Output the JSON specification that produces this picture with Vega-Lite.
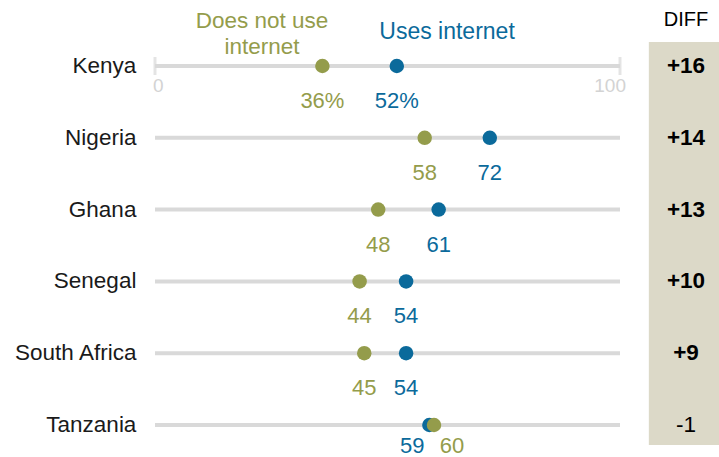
{
  "$schema": "https://vega.github.io/schema/vega-lite/v6.json",
  "width": 719,
  "height": 457,
  "padding": 0,
  "autosize": {"type": "none"},
  "background": "white",
  "config": {"view": {"stroke": null}, "font": "Liberation Sans"},
  "datasets": {
    "dots": [
      {"country": "Kenya", "group": "Uses internet", "value": 52, "label": "52%"},
      {"country": "Nigeria", "group": "Uses internet", "value": 72, "label": "72"},
      {"country": "Ghana", "group": "Uses internet", "value": 61, "label": "61"},
      {"country": "Senegal", "group": "Uses internet", "value": 54, "label": "54"},
      {"country": "South Africa", "group": "Uses internet", "value": 54, "label": "54"},
      {"country": "Tanzania", "group": "Uses internet", "value": 59, "label": "59"},
      {"country": "Kenya", "group": "Does not use internet", "value": 36, "label": "36%"},
      {"country": "Nigeria", "group": "Does not use internet", "value": 58, "label": "58"},
      {"country": "Ghana", "group": "Does not use internet", "value": 48, "label": "48"},
      {"country": "Senegal", "group": "Does not use internet", "value": 44, "label": "44"},
      {"country": "South Africa", "group": "Does not use internet", "value": 45, "label": "45"},
      {"country": "Tanzania", "group": "Does not use internet", "value": 60, "label": "60"}
    ],
    "diffs": [
      {"country": "Kenya", "diff": "+16", "positive": true},
      {"country": "Nigeria", "diff": "+14", "positive": true},
      {"country": "Ghana", "diff": "+13", "positive": true},
      {"country": "Senegal", "diff": "+10", "positive": true},
      {"country": "South Africa", "diff": "+9", "positive": true},
      {"country": "Tanzania", "diff": "-1", "positive": false}
    ],
    "ends": [{"v": 0, "t": "0"}, {"v": 100, "t": "100"}]
  },
  "layer": [
    {
      "data": {"name": "diffs"},
      "mark": {"type": "rule", "strokeWidth": 4, "color": "#d9d9d9"},
      "encoding": {
        "x": {"datum": 0, "type": "quantitative", "scale": {"domain": [0, 100], "range": [155, 620], "nice": false, "zero": false}, "axis": null},
        "x2": {"datum": 100},
        "y": {"field": "country", "type": "nominal", "scale": {"type": "point", "domain": ["Kenya", "Nigeria", "Ghana", "Senegal", "South Africa", "Tanzania"], "range": [66, 425], "padding": 0}, "axis": null}
      }
    },
    {
      "data": {"name": "ends"},
      "mark": {"type": "tick", "orient": "vertical", "size": 18, "thickness": 3, "color": "#d9d9d9"},
      "encoding": {
        "x": {"field": "v", "type": "quantitative"},
        "y": {"datum": "Kenya", "type": "nominal"}
      }
    },
    {
      "data": {"name": "ends"},
      "mark": {"type": "text", "dy": 20, "fontSize": 19, "color": "#d3d3d3", "baseline": "middle", "align": {"expr": "datum.v == 0 ? 'left' : 'right'"}, "dx": {"expr": "datum.v == 0 ? -2 : 6"}},
      "encoding": {
        "x": {"field": "v", "type": "quantitative"},
        "y": {"datum": "Kenya", "type": "nominal"},
        "text": {"field": "t"}
      }
    },
    {
      "data": {"name": "dots"},
      "mark": {"type": "point", "filled": true, "opacity": 1, "size": 210, "shape": "circle"},
      "encoding": {
        "x": {"field": "value", "type": "quantitative"},
        "y": {"field": "country", "type": "nominal"},
        "color": {"field": "group", "type": "nominal", "scale": {"domain": ["Uses internet", "Does not use internet"], "range": ["#0b6a9b", "#949c4b"]}, "legend": null}
      }
    },
    {
      "data": {"name": "dots"},
      "mark": {"type": "text", "fontSize": 22, "baseline": "middle", "dy": {"expr": "datum.country == 'Tanzania' ? 21 : 35"}, "dx": {"expr": "datum.country == 'Tanzania' ? (datum.group == 'Uses internet' ? -17 : 18) : 0"}},
      "encoding": {
        "x": {"field": "value", "type": "quantitative"},
        "y": {"field": "country", "type": "nominal"},
        "text": {"field": "label"},
        "color": {"field": "group", "type": "nominal", "legend": null}
      }
    },
    {
      "data": {"name": "diffs"},
      "mark": {"type": "text", "align": "right", "baseline": "middle", "fontSize": 22.5, "color": "#1a1a1a"},
      "encoding": {
        "x": {"datum": -4, "type": "quantitative"},
        "y": {"field": "country", "type": "nominal"},
        "text": {"field": "country"}
      }
    },
    {
      "data": {"values": [{"k": 1}]},
      "mark": {"type": "rect", "color": "#dcd9c8", "yOffset": -24, "y2Offset": 20},
      "encoding": {
        "x": {"datum": 106.2, "type": "quantitative"},
        "x2": {"datum": 121.4},
        "y": {"datum": "Kenya", "type": "nominal"},
        "y2": {"datum": "Tanzania"}
      }
    },
    {
      "data": {"name": "diffs"},
      "mark": {"type": "text", "baseline": "middle", "fontSize": 22.5, "color": "#000000", "fontWeight": {"expr": "datum.positive ? 'bold' : 'normal'"}},
      "encoding": {
        "x": {"datum": 114.2, "type": "quantitative"},
        "y": {"field": "country", "type": "nominal"},
        "text": {"field": "diff"}
      }
    },
    {
      "data": {"values": [{"t": "DIFF"}]},
      "mark": {"type": "text", "baseline": "middle", "fontSize": 20, "color": "#000000", "dy": -46},
      "encoding": {
        "x": {"datum": 114.2, "type": "quantitative"},
        "y": {"datum": "Kenya", "type": "nominal"},
        "text": {"field": "t"}
      }
    },
    {
      "data": {"values": [{"t": ["Does not use", "internet"]}]},
      "mark": {"type": "text", "baseline": "middle", "fontSize": 22.5, "color": "#949c4b", "dy": -45, "lineHeight": 26},
      "encoding": {
        "x": {"datum": 23, "type": "quantitative"},
        "y": {"datum": "Kenya", "type": "nominal"},
        "text": {"field": "t"}
      }
    },
    {
      "data": {"values": [{"t": "Uses internet"}]},
      "mark": {"type": "text", "baseline": "middle", "fontSize": 23, "color": "#0b6a9b", "dy": -34},
      "encoding": {
        "x": {"datum": 62.8, "type": "quantitative"},
        "y": {"datum": "Kenya", "type": "nominal"},
        "text": {"field": "t"}
      }
    }
  ]
}
